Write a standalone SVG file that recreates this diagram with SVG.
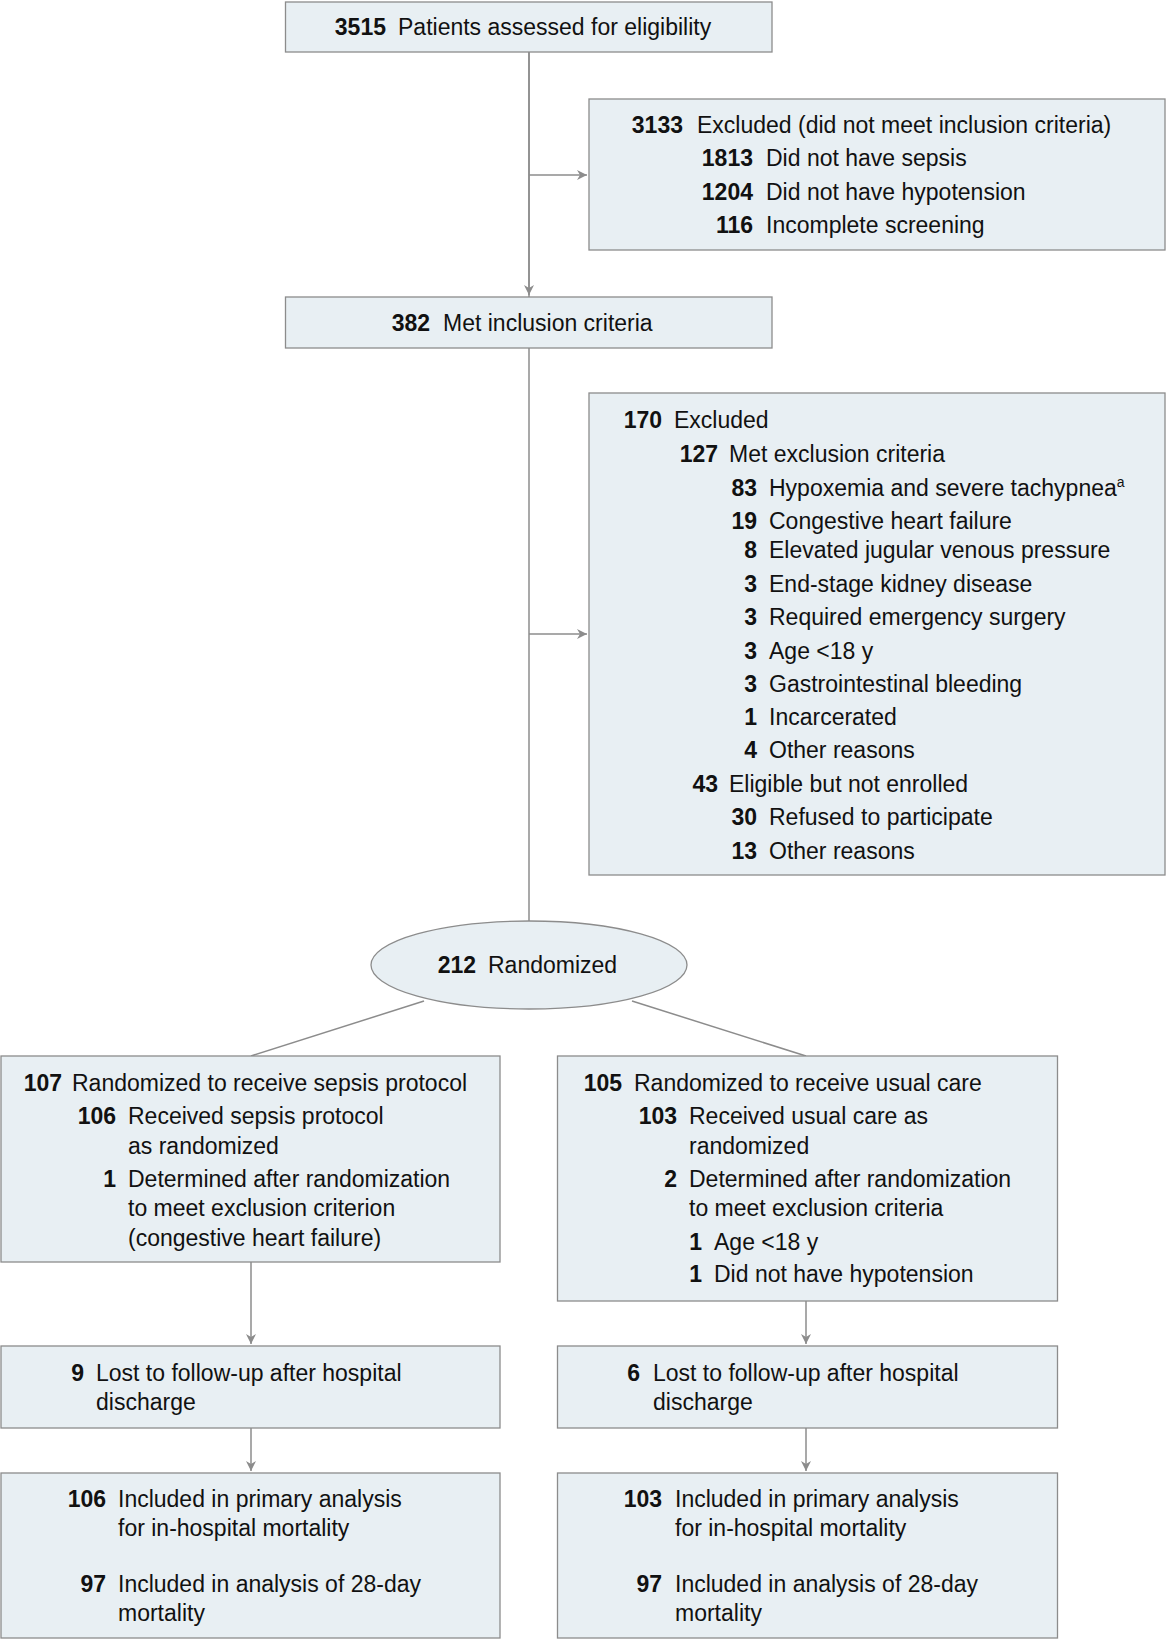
<svg xmlns="http://www.w3.org/2000/svg" width="1166" height="1639" viewBox="0 0 1166 1639">
<style>
.b{fill:#e8eff3;stroke:#8c8c8c;stroke-width:1.3}
text{font-family:"Liberation Sans",Arial,sans-serif;font-size:23px;fill:#111}
.n{font-weight:bold;text-anchor:end}
.c{stroke:#8c8c8c;stroke-width:1.5;fill:none}
</style>
<defs><marker id="a" markerWidth="12" markerHeight="12" refX="10" refY="5" orient="auto" markerUnits="userSpaceOnUse"><path d="M0,0 L10,5 L0,10 L3,5 Z" fill="#8c8c8c"/></marker></defs>
<rect width="1166" height="1639" fill="#fff"/>
<g id="connectors">
<path class="c" d="M529,52 V1001"/>
<path class="c" d="M529,52 V295" marker-end="url(#a)"/>
<path class="c" d="M529,175 H587" marker-end="url(#a)"/>
<path class="c" d="M529,634 H587" marker-end="url(#a)"/>
<path class="c" d="M424,1001 L251,1056"/>
<path class="c" d="M632,1001 L806,1056"/>
<path class="c" d="M251,1262 V1344" marker-end="url(#a)"/>
<path class="c" d="M806,1301 V1344" marker-end="url(#a)"/>
<path class="c" d="M251,1428 V1471" marker-end="url(#a)"/>
<path class="c" d="M806,1428 V1471" marker-end="url(#a)"/>
</g>
<g id="n1"><rect class="b" x="285.5" y="2" width="486.5" height="50"/>
<text class="n" x="386" y="35">3515</text><text x="398" y="35">Patients assessed for eligibility</text></g>
<g id="n2"><rect class="b" x="589" y="99" width="576" height="151"/>
<text class="n" x="683" y="133">3133</text><text x="697" y="133">Excluded (did not meet inclusion criteria)</text>
<text class="n" x="753" y="166">1813</text><text x="766" y="166">Did not have sepsis</text>
<text class="n" x="753" y="200">1204</text><text x="766" y="200">Did not have hypotension</text>
<text class="n" x="753" y="233">116</text><text x="766" y="233">Incomplete screening</text></g>
<g id="n3"><rect class="b" x="285.5" y="297" width="486.5" height="51"/>
<text class="n" x="430" y="331">382</text><text x="443" y="331">Met inclusion criteria</text></g>
<g id="n4"><rect class="b" x="589" y="393" width="576" height="482"/>
<text class="n" x="662" y="428">170</text><text x="674" y="428">Excluded</text>
<text class="n" x="718" y="462">127</text><text x="729" y="462">Met exclusion criteria</text>
<text class="n" x="757" y="496">83</text><text x="769" y="496">Hypoxemia and severe tachypnea<tspan dy="-9" font-size="14">a</tspan></text>
<text class="n" x="757" y="529">19</text><text x="769" y="529">Congestive heart failure</text>
<text class="n" x="757" y="558">8</text><text x="769" y="558">Elevated jugular venous pressure</text>
<text class="n" x="757" y="592">3</text><text x="769" y="592">End-stage kidney disease</text>
<text class="n" x="757" y="625">3</text><text x="769" y="625">Required emergency surgery</text>
<text class="n" x="757" y="659">3</text><text x="769" y="659">Age &lt;18 y</text>
<text class="n" x="757" y="692">3</text><text x="769" y="692">Gastrointestinal bleeding</text>
<text class="n" x="757" y="725">1</text><text x="769" y="725">Incarcerated</text>
<text class="n" x="757" y="758">4</text><text x="769" y="758">Other reasons</text>
<text class="n" x="718" y="792">43</text><text x="729" y="792">Eligible but not enrolled</text>
<text class="n" x="757" y="825">30</text><text x="769" y="825">Refused to participate</text>
<text class="n" x="757" y="859">13</text><text x="769" y="859">Other reasons</text></g>
<g id="n5"><ellipse class="b" cx="529" cy="965" rx="158" ry="44"/>
<text class="n" x="476" y="973">212</text><text x="488" y="973">Randomized</text></g>
<g id="n6"><rect class="b" x="1" y="1056" width="499" height="206"/>
<text class="n" x="62" y="1091">107</text><text x="72" y="1091">Randomized to receive sepsis protocol</text>
<text class="n" x="116" y="1124">106</text><text x="128" y="1124">Received sepsis protocol</text>
<text x="128" y="1154">as randomized</text>
<text class="n" x="116" y="1187">1</text><text x="128" y="1187">Determined after randomization</text>
<text x="128" y="1216">to meet exclusion criterion</text>
<text x="128" y="1246">(congestive heart failure)</text></g>
<g id="n7"><rect class="b" x="557.5" y="1056" width="500" height="245"/>
<text class="n" x="622" y="1091">105</text><text x="634" y="1091">Randomized to receive usual care</text>
<text class="n" x="677" y="1124">103</text><text x="689" y="1124">Received usual care as</text>
<text x="689" y="1154">randomized</text>
<text class="n" x="677" y="1187">2</text><text x="689" y="1187">Determined after randomization</text>
<text x="689" y="1216">to meet exclusion criteria</text>
<text class="n" x="702" y="1250">1</text><text x="714" y="1250">Age &lt;18 y</text>
<text class="n" x="702" y="1282">1</text><text x="714" y="1282">Did not have hypotension</text></g>
<g id="n8"><rect class="b" x="1" y="1346" width="499" height="82"/>
<text class="n" x="84" y="1381">9</text><text x="96" y="1381">Lost to follow-up after hospital</text>
<text x="96" y="1410">discharge</text></g>
<g id="n9"><rect class="b" x="557.5" y="1346" width="500" height="82"/>
<text class="n" x="640" y="1381">6</text><text x="653" y="1381">Lost to follow-up after hospital</text>
<text x="653" y="1410">discharge</text></g>
<g id="n10"><rect class="b" x="1" y="1473" width="499" height="165"/>
<text class="n" x="106" y="1507">106</text><text x="118" y="1507">Included in primary analysis</text>
<text x="118" y="1536">for in-hospital mortality</text>
<text class="n" x="106" y="1592">97</text><text x="118" y="1592">Included in analysis of 28-day</text>
<text x="118" y="1621">mortality</text></g>
<g id="n11"><rect class="b" x="557.5" y="1473" width="500" height="165"/>
<text class="n" x="662" y="1507">103</text><text x="675" y="1507">Included in primary analysis</text>
<text x="675" y="1536">for in-hospital mortality</text>
<text class="n" x="662" y="1592">97</text><text x="675" y="1592">Included in analysis of 28-day</text>
<text x="675" y="1621">mortality</text></g>
</svg>
